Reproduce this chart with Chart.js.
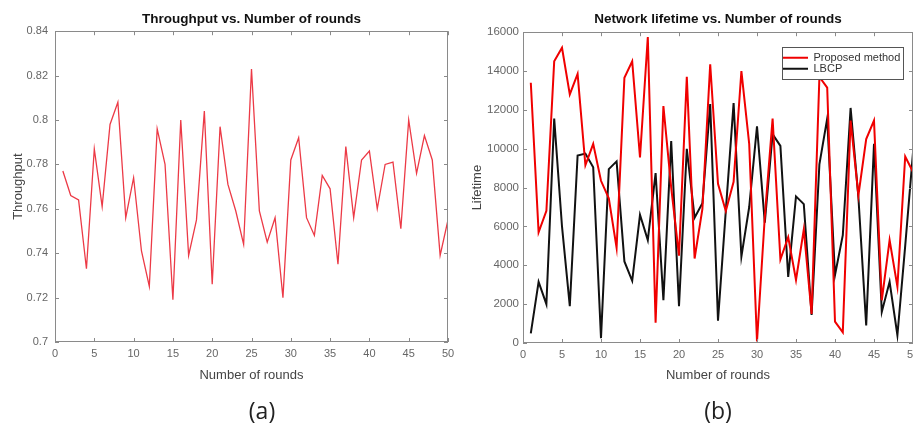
<!DOCTYPE html>
<html><head><meta charset="utf-8">
<script src="https://cdn.jsdelivr.net/npm/chart.js@4/dist/chart.umd.min.js"></script>
<style>
html,body{margin:0;padding:0;background:#fff;width:913px;height:431px;overflow:hidden;position:relative;font-family:"Liberation Sans",Arial,sans-serif;}
#c1{position:absolute;left:0;top:0;}
#c2{position:absolute;left:460px;top:0;}
.cap{position:absolute;top:392px;width:80px;text-align:center;font-size:23px;line-height:36px;color:#222;font-family:"Open Sans","Noto Sans",sans-serif;}
</style>
</head><body>
<canvas id="c1" width="470" height="395"></canvas>
<canvas id="c2" width="460" height="395"></canvas>
<div class="cap" style="left:222px">(a)</div>
<div class="cap" style="left:678px">(b)</div>
<script>
const rounds = [1,2,3,4,5,6,7,8,9,10,11,12,13,14,15,16,17,18,19,20,21,22,23,24,25,26,27,28,29,30,31,32,33,34,35,36,37,38,39,40,41,42,43,44,45,46,47,48,49,50];
const throughput = [0.777,0.766,0.764,0.733,0.787,0.761,0.798,0.808,0.756,0.774,0.741,0.725,0.796,0.780,0.719,0.800,0.739,0.755,0.804,0.726,0.797,0.771,0.759,0.744,0.823,0.759,0.745,0.756,0.720,0.782,0.792,0.756,0.748,0.775,0.769,0.735,0.788,0.756,0.782,0.786,0.760,0.780,0.781,0.751,0.800,0.776,0.793,0.782,0.739,0.755];
const lifetimeProposed = [13400,5700,6800,14500,15200,12800,13850,9150,10250,8350,7450,4900,13650,14500,9550,15750,1050,12200,8000,4500,13700,4350,6900,14350,8200,6800,8300,14000,10250,80,6500,11550,4300,5450,3250,5850,1500,13700,13150,1100,550,11450,7600,10500,11450,2200,5300,2900,9600,8800];
const lifetimeLBCP = [500,3150,2000,11550,6000,1900,9650,9750,9050,250,8950,9350,4200,3200,6600,5300,8750,2200,10400,1900,10000,6450,7200,12300,1150,6800,12350,4450,7000,11150,6200,10750,10150,3400,7550,7150,1450,9200,11550,3500,5550,12100,7500,900,10250,1600,3150,400,5000,9800];
const seriesNames = ['Proposed method','LBCP'];
const xTickValues = [0,5,10,15,20,25,30,35,40,45,50];
const xTickLabels = ['0','5','10','15','20','25','30','35','40','45','50'];
const throughputTickValues = [0.70,0.72,0.74,0.76,0.78,0.80,0.82,0.84];
const throughputTickLabels = ['0.7','0.72','0.74','0.76','0.78','0.8','0.82','0.84'];
const lifetimeTickValues = [0,2000,4000,6000,8000,10000,12000,14000,16000];
const lifetimeTickLabels = ['0','2000','4000','6000','8000','10000','12000','14000','16000'];

const FONT = '"Liberation Sans", Arial, sans-serif';
const TICK_COLOR = '#666';

const framePlugin = {
  id: 'frame',
  afterDatasetsDraw(chart) {
    const {ctx, chartArea: a, scales: {x, y}} = chart;
    ctx.save();
    ctx.strokeStyle = '#8a8a8a';
    ctx.lineWidth = 1;
    ctx.strokeRect(Math.round(a.left) + 0.5, Math.round(a.top) + 0.5, Math.round(a.right - a.left) - 1, Math.round(a.bottom - a.top) - 1);
    const L = 4;
    ctx.beginPath();
    x.ticks.forEach(t => {
      const px = Math.round(x.getPixelForValue(t.value)) + 0.5;
      ctx.moveTo(px, a.bottom); ctx.lineTo(px, a.bottom - L);
      ctx.moveTo(px, a.top); ctx.lineTo(px, a.top + L);
    });
    y.ticks.forEach(t => {
      const py = Math.round(y.getPixelForValue(t.value)) + 0.5;
      ctx.moveTo(a.left, py); ctx.lineTo(a.left + L, py);
      ctx.moveTo(a.right, py); ctx.lineTo(a.right - L, py);
    });
    ctx.stroke();
    ctx.restore();
  }
};

const legendBoxPlugin = {
  id: 'legendBox',
  afterLayout(chart) {
    const lg = chart.legend;
    if (!lg) return;
    lg.left = chart.chartArea.right - 130;
    lg.top = chart.chartArea.top + 20;
  },
  afterDatasetsDraw(chart) {
    const lg = chart.legend;
    if (!lg || !lg.legendHitBoxes || !lg.legendHitBoxes.length) return;
    const hb = lg.legendHitBoxes;
    const ctx = chart.ctx;
    const l = Math.min(...hb.map(h => h.left)) - 1;
    const r = Math.max(...hb.map(h => h.left + h.width)) + 3;
    const t = hb[0].top - 5;
    const last = hb[hb.length - 1];
    const b = last.top + last.height + 5;
    ctx.save();
    ctx.fillStyle = '#fff';
    ctx.fillRect(l, t, r - l, b - t);
    ctx.strokeStyle = '#555';
    ctx.lineWidth = 1;
    ctx.strokeRect(Math.round(l) + 0.5, Math.round(t) + 0.5, Math.round(r - l), Math.round(b - t));
    ctx.restore();
    lg.draw();
  }
};

function xScale(height, noRightPad) {
  return {
    type: 'linear', min: 0, max: 50,
    afterBuildTicks: s => { s.ticks = xTickValues.map(v => ({value: v})); },
    ticks: { color: TICK_COLOR, font: {family: FONT, size: 11}, padding: 5, maxRotation: 0, autoSkip: false,
      callback: (v, i) => xTickLabels[i] },
    grid: { display: false, drawTicks: false, drawOnChartArea: false },
    border: { display: false },
    title: { display: true, text: 'Number of rounds', color: '#444', font: {family: FONT, size: 13}, padding: {top: 0, bottom: 12} },
    afterFit: s => { s.height = height; if (noRightPad) s.paddingRight = 0; }
  };
}

new Chart(document.getElementById('c1'), {
  type: 'line',
  data: {
    datasets: [{
      label: 'Throughput',
      data: rounds.map((r, i) => ({x: r, y: throughput[i]})),
      borderColor: '#ec3a46', borderWidth: 1.3, pointRadius: 0, tension: 0, fill: false
    }]
  },
  options: {
    responsive: false, animation: false, devicePixelRatio: 1,
    layout: { padding: {left: 0, right: 22, top: 0, bottom: 0} },
    plugins: {
      legend: { display: false },
      tooltip: { enabled: false },
      title: { display: true, text: 'Throughput vs. Number of rounds', color: '#111', fullSize: false,
        font: {family: FONT, size: 13.5, weight: 'bold'}, padding: {top: 11, bottom: 4} }
    },
    scales: {
      x: xScale(53, false),
      y: {
        type: 'linear', min: 0.7, max: 0.84,
        afterBuildTicks: s => { s.ticks = throughputTickValues.map(v => ({value: v})); },
        ticks: { color: TICK_COLOR, font: {family: FONT, size: 11}, padding: 7, autoSkip: false,
          callback: (v, i) => throughputTickLabels[i] },
        grid: { display: false, drawTicks: false, drawOnChartArea: false },
        border: { display: false },
        title: { display: true, text: 'Throughput', color: '#444', font: {family: FONT, size: 13}, padding: {top: 11, bottom: 0} },
        afterFit: s => { s.width = 55; }
      }
    }
  },
  plugins: [framePlugin]
});

new Chart(document.getElementById('c2'), {
  type: 'line',
  data: {
    datasets: [{
      label: seriesNames[0],
      data: rounds.map((r, i) => ({x: r, y: lifetimeProposed[i]})),
      borderColor: '#f00000', borderWidth: 2, pointRadius: 0, tension: 0, fill: false
    }, {
      label: seriesNames[1],
      data: rounds.map((r, i) => ({x: r, y: lifetimeLBCP[i]})),
      borderColor: '#111111', borderWidth: 2, pointRadius: 0, tension: 0, fill: false
    }]
  },
  options: {
    responsive: false, animation: false, devicePixelRatio: 1,
    layout: { padding: {left: 0, right: 7, top: 0, bottom: 0} },
    plugins: {
      legend: { display: true, position: 'chartArea', align: 'start',
        labels: { usePointStyle: true, pointStyle: 'line', pointStyleWidth: 25, boxHeight: 11, padding: 0,
          color: '#333', font: {family: FONT, size: 11} } },
      tooltip: { enabled: false },
      title: { display: true, text: 'Network lifetime vs. Number of rounds', color: '#111', fullSize: false,
        font: {family: FONT, size: 13.5, weight: 'bold'}, padding: {top: 11, bottom: 5} }
    },
    scales: {
      x: xScale(52, true),
      y: {
        type: 'linear', min: 0, max: 16000,
        afterBuildTicks: s => { s.ticks = lifetimeTickValues.map(v => ({value: v})); },
        ticks: { color: TICK_COLOR, font: {family: FONT, size: 11.5}, padding: 4, autoSkip: false,
          callback: (v, i) => lifetimeTickLabels[i] },
        grid: { display: false, drawTicks: false, drawOnChartArea: false },
        border: { display: false },
        title: { display: true, text: 'Lifetime', color: '#444', font: {family: FONT, size: 13}, padding: {top: 10, bottom: 0} },
        afterFit: s => { s.width = 63; }
      }
    }
  },
  plugins: [framePlugin, legendBoxPlugin]
});
</script>
</body></html>
